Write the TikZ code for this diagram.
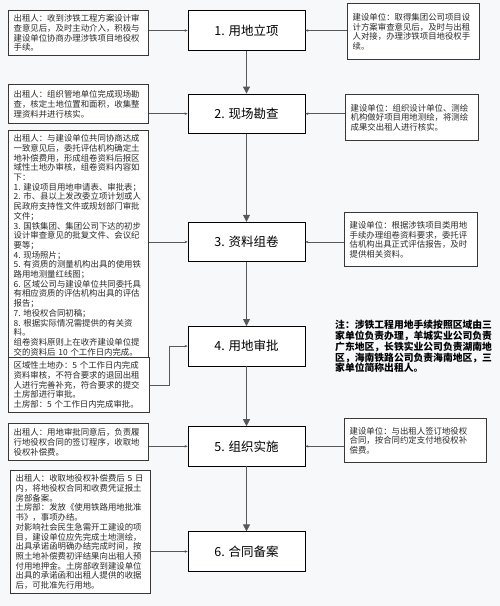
\documentclass[tikz,border=0pt]{standalone}
\usepackage{fontspec}
\setmainfont{Liberation Sans}
\newfontfamily\cjk{Noto Sans CJK SC}
\usetikzlibrary{arrows.meta,positioning}
\definecolor{paper}{HTML}{F6F8F9}
\definecolor{edge}{HTML}{383838}
\definecolor{wire}{HTML}{585858}
\definecolor{ink}{HTML}{2A2A2A}

\begin{document}
\begin{tikzpicture}[x=1pt, y=-1pt,
  stage/.style={draw=black, line width=0.7pt, fill=white, minimum width=117pt, minimum height=39.5pt, inner sep=0pt, font=\cjk\fontsize{12.5}{14}\selectfont},
  memo/.style={draw=edge, line width=1.3pt, fill=white, text=ink, anchor=north west, align=left, inner xsep=5pt, inner ysep=4pt, font=\cjk\fontsize{8.4}{9.7}\selectfont},
  flow/.style={-{Triangle[length=7pt, width=7pt]}, line width=0.8pt, wire},
  link/.style={-{Stealth[length=3pt, width=2.5pt]}, line width=0.6pt, wire}
]
  \fill[paper] (0,0) rectangle (500,606);
  \useasboundingbox (0,0) rectangle (500,606);

  \node[stage] (s1) at (246.5,30.5) {1. 用地立项};
  \node[stage, below=43pt of s1] (s2) {2. 现场勘查};
  \node[stage, below=88pt of s2] (s3) {3. 资料组卷};
  \node[stage, below=64pt of s3] (s4) {4. 用地审批};
  \node[stage, below=60pt of s4] (s5) {5. 组织实施};
  \node[stage, below=65pt of s5] (s6) {6. 合同备案};

  \node[memo, text width=130pt, minimum height=45pt] (l1) at (8,10) {出租人：收到涉铁工程方案设计审\\查意见后，及时主动介入，积极与\\建设单位协商办理涉铁项目地役权\\手续。};
  \node[memo, text width=130pt, minimum height=39pt] (l2) at (8,84) {出租人：组织管地单位完成现场勘\\查，核定土地位置和面积，收集整\\理资料并进行核实。};
  \node[memo, text width=130pt, minimum height=222pt] (l3) at (8,130) {出租人：与建设单位共同协商达成\\一致意见后，委托评估机构确定土\\地补偿费用，形成组卷资料后报区\\域性土地办审核，组卷资料内容如\\下：\\1.~建设项目用地申请表、审批表；\\2.~市、县以上发改委立项计划或人\\民政府支持性文件或规划部门审批\\文件；\\3.~国铁集团、集团公司下达的初步\\设计审查意见的批复文件、会议纪\\要等；\\4.~现场照片；\\5.~有资质的测量机构出具的使用铁\\路用地测量红线图；\\6.~区域公司与建设单位共同委托具\\有相应资质的评估机构出具的评估\\报告；\\7.~地役权合同初稿；\\8.~根据实际情况需提供的有关资\\料。\\组卷资料原则上在收齐建设单位提\\交的资料后~10~个工作日内完成。};
  \node[memo, text width=131pt, minimum height=48pt] (l4) at (8,357) {区域性土地办：5~个工作日内完成\\资料审核，不符合要求的退回出租\\人进行完善补充，符合要求的提交\\土房部进行审批。\\土房部：5~个工作日内完成审批。};
  \node[memo, text width=130pt, minimum height=37pt] (l5) at (8,423) {出租人：用地审批同意后，负责履\\行地役权合同的签订程序，收取地\\役权补偿费。};
  \node[memo, text width=130pt, minimum height=123pt] (l6) at (10,470) {出租人：收取地役权补偿费后~5~日\\内，将地役权合同和收费凭证报土\\房部备案。\\土房部：发放《使用铁路用地批准\\书》，事项办结。\\对影响社会民生急需开工建设的项\\目，建设单位应先完成土地测绘，\\出具承诺函明确办结完成时间，按\\照土地补偿费初评结果向出租人预\\付用地押金。土房部收到建设单位\\出具的承诺函和出租人提供的收据\\后，可批准先行用地。};

  \node[memo, text width=122pt, minimum height=56pt] (r1) at (347,3) {建设单位：取得集团公司项目设\\计方案审查意见后，及时与出租\\人对接，办理涉铁项目地役权手\\续。};
  \node[memo, text width=123pt, minimum height=46pt] (r2) at (345,94) {建设单位：组织设计单位、测绘\\机构做好项目用地测绘，将测绘\\成果交出租人进行核实。};
  \node[memo, text width=123pt, minimum height=54pt] (r3) at (344,212) {建设单位：根据涉铁项目类用地\\手续办理组卷资料要求，委托评\\估机构出具正式评估报告，及时\\提供相关资料。};
  \node[memo, text width=132pt, minimum height=44pt] (r5) at (344,418) {建设单位：与出租人签订地役权\\合同，按合同约定支付地役权补\\偿费。};

  \node[anchor=north west, align=left, inner sep=0pt, font=\cjk\bfseries\fontsize{9.8}{10.8}\selectfont] (note) at (335,320) {注：涉铁工程用地手续按照区域由三\\家单位负责办理，羊城实业公司负责\\广东地区，长铁实业公司负责湖南地\\区，海南铁路公司负责海南地区，三\\家单位简称出租人。};

  \draw[flow] (s1) -- (s2);
  \draw[flow] (s2) -- (s3);
  \draw[flow] (s3) -- (s4);
  \draw[flow] (s4) -- (s5);
  \draw[flow] (s5) -- (s6);

  \draw[link] (s1.west -| l1.east) -- (s1.west);
  \draw[link] (s2.west -| l2.east) -- (s2.west);
  \draw[link] (s3.west -| l3.east) -- (s3.west);
  \draw[link] (l4.east) -- ++(19,0) |- (s4.west);
  \draw[link] (s5.west -| l5.east) -- (s5.west);
  \draw[link] (s6.west -| l6.east) -- (s6.west);

  \draw[link] (s1.east -| r1.west) -- (s1.east);
  \draw[link] (s2.east -| r2.west) -- (s2.east);
  \draw[link] (s3.east -| r3.west) -- (s3.east);
  \draw[link] (s5.east -| r5.west) -- (s5.east);
\end{tikzpicture}
\end{document}
